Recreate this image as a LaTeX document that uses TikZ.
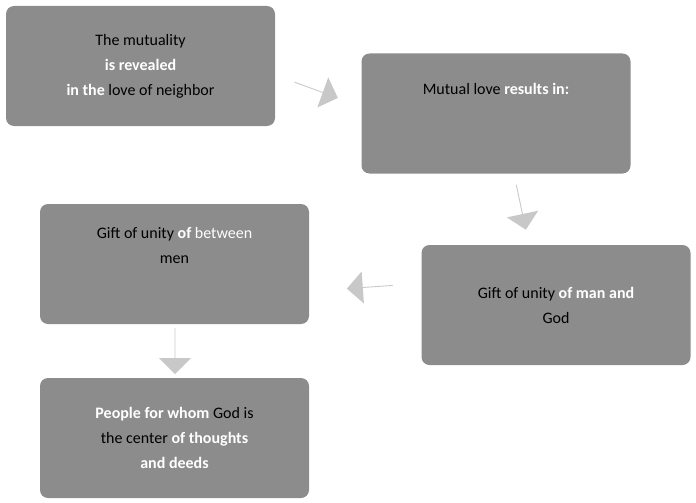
\documentclass[tikz,border=0pt]{standalone}
\usepackage{fontspec}
\setmainfont{Carlito}
\usetikzlibrary{shapes.arrows}
\begin{document}
\begin{tikzpicture}[x=1pt,y=-1pt,
  box/.style={fill=boxgray,rounded corners=8pt,minimum width=269pt,minimum height=120pt,
    align=center,font=\fontsize{16}{25}\selectfont,text=black,inner sep=0pt},
  arr/.style={single arrow,fill=arrgray,draw=none,minimum height=46pt,minimum width=32pt,
    single arrow head extend=7pt,inner sep=0pt},
  w/.style={}]
\definecolor{boxgray}{HTML}{8C8C8C}
\definecolor{arrgray}{HTML}{C8C8C8}
\newcommand{\wb}[1]{\textcolor{white}{\textbf{#1}}}
\useasboundingbox (0,0) rectangle (696,503);
\node[box] (b1) at (140.5,66) {The mutuality\\ \wb{is revealed}\\ \wb{in the} love of neighbor};
\node[box] (b2) at (496,113.5) {Mutual love \wb{results in:}\\[24pt]};
\node[box] (b3) at (556,305) {Gift of unity \wb{of man and}\\ God};
\node[box] (b4) at (174.5,264) {Gift of unity \textcolor{white}{\textbf{of} between}\\ men\\[12pt]};
\node[box] (b5) at (174.5,438) {\wb{People for whom} God is\\ the center \wb{of thoughts}\\ \wb{and deeds}};
\node[arr,rotate=-20] (a1) at (316,90) {};
\node[arr,rotate=-78] (a2) at (521,207) {};
\node[arr,rotate=184] (a3) at (370,287) {};
\node[arr,rotate=-90] (a4) at (175,351) {};
\end{tikzpicture}
\end{document}
